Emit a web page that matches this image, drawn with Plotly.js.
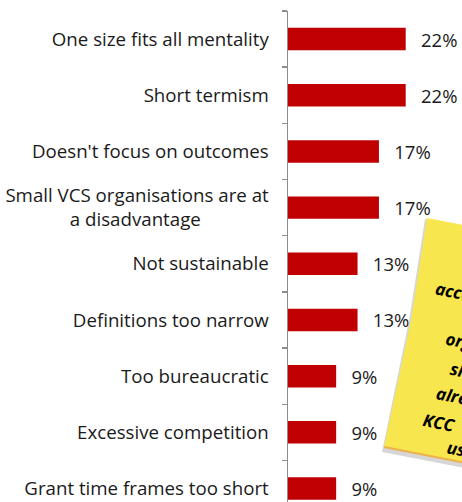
<!DOCTYPE html>
<html>
<head>
<meta charset="utf-8">
<script src="https://cdn.plot.ly/plotly-3.0.1.min.js"></script>
<style>html,body{margin:0;padding:0;background:#fff;overflow:hidden}</style>
</head>
<body>
<div id="chart" style="width:462px;height:502px"></div>
<script>
// ---- data ----
const NB = "\u00A0";
const categories = [
  "One size fits all mentality",
  "Short termism",
  "Doesn't focus on outcomes",
  "Small VCS organisations are at<br>a disadvantage" + NB.repeat(14),
  "Not sustainable",
  "Definitions too narrow",
  "Too bureaucratic",
  "Excessive competition",
  "Grant time frames too short"
];
const values = [22, 22, 17, 17, 13, 13, 9, 9, 9];
const noteLines = ["according", "organisations", "should", "already", "KCC", "use"];

// ---- layout helpers (pixel -> paper) ----
const FONT = "'Open Sans', sans-serif";
const W = 462, H = 502, ML = 288, MT = 11, MR = 0, MB = 0;
const PW = W - ML - MR, PH = H - MT - MB;
const px = x => (x - ML) / PW;
const py = y => 1 - (y - MT) / PH;
const pathOf = pts => pts.map((p, i) => (i ? "L" : "M") + px(p[0]).toFixed(4) + "," + py(p[1]).toFixed(4)).join(" ") + " Z";

const ang = 11 * Math.PI / 180, c = Math.cos(ang), s = Math.sin(ang);
const TL = [427, 218], ML_ = [411, 320], BL = [384, 447];
const TR = [TL[0] + c * 260, TL[1] + s * 260], BR = [BL[0] + c * 260, BL[1] + s * 260];
const off = (p, dx, dy) => [p[0] + dx, p[1] + dy];

const notePos = [[431, 295], [441, 348], [446, 373], [432, 398], [419, 422], [443, 449]];

const trace = {
  type: "bar",
  orientation: "h",
  y: categories,
  x: values,
  width: 0.4,
  marker: { color: "#C00000" },
  text: values.map(v => "\u2002\u2009" + v + "%"),
  textposition: "outside",
  constraintext: "none",
  textfont: { family: FONT, size: 18.5, color: "#1a1a1a" },
  cliponaxis: false,
  hoverinfo: "skip"
};

const layout = {
  width: W, height: H,
  margin: { l: ML, r: MR, t: MT, b: MB, pad: 0 },
  paper_bgcolor: "#ffffff", plot_bgcolor: "#ffffff",
  showlegend: false,
  font: { family: FONT, size: 18.7, color: "#1a1a1a" },
  xaxis: { range: [0, PW / 5.35], showgrid: false, zeroline: false, showline: false, showticklabels: false, ticks: "" },
  yaxis: {
    type: "category",
    range: [8.24, -0.5],
    showline: true, linecolor: "#8c8c8c", linewidth: 1.5,
    ticks: "outside", ticklen: 5, tickcolor: "#8c8c8c", tickwidth: 1.5,
    tickson: "boundaries",
    ticklabelstandoff: 14,
    showgrid: false, zeroline: false,
    tickfont: { family: FONT, size: 18.7, color: "#1a1a1a" }
  },
  shapes: [
    { type: "path", xref: "paper", yref: "paper", path: pathOf([off(TL, -2, 1), off(TR, -2, 1), off(BR, 0, 5), off(BL, -2, 5), off(ML_, -2, 1)]), fillcolor: "rgba(120,120,120,0.3)", line: { width: 0 }, layer: "above" },
    { type: "path", xref: "paper", yref: "paper", path: pathOf([TL, TR, BR, BL, ML_]), fillcolor: "#F7E64D", line: { width: 0 }, layer: "above" },
    { type: "path", xref: "paper", yref: "paper", path: "M" + px(BL[0]) + "," + py(BL[1]) + " L" + px(BR[0]) + "," + py(BR[1]), line: { color: "#EDB04A", width: 2 }, layer: "above" }
  ],
  annotations: noteLines.map((t, i) => ({
    xref: "paper", yref: "paper",
    x: px(notePos[i][0]), y: py(notePos[i][1]),
    xanchor: "left", yanchor: "middle",
    text: t, showarrow: false, textangle: 11,
    font: { family: FONT, size: 17, color: "#000", weight: "bold", style: "italic" }
  }))
};

Plotly.newPlot("chart", [trace], layout, { staticPlot: true, displayModeBar: false });
</script>
</body>
</html>
